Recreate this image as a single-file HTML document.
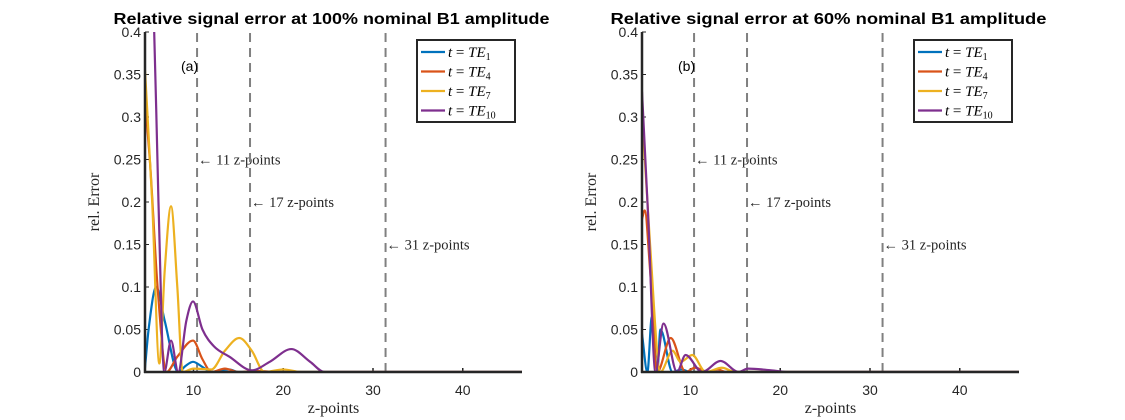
<!DOCTYPE html>
<html><head><meta charset="utf-8"><style>
html,body{margin:0;padding:0;background:#fff;}
svg{display:block;}
text{font-family:"Liberation Sans",sans-serif;}
.serif{font-family:"Liberation Serif",serif;}
</style></head><body>
<svg id="chart" width="1125" height="420" viewBox="0 0 1125 420"></svg>
<script>
const yTicks=[0,0.05,0.1,0.15,0.2,0.25,0.3,0.35,0.4];
const yTickLabels=["0","0.05","0.1","0.15","0.2","0.25","0.3","0.35","0.4"];
const xTicks=[10,20,30,40];
const seriesNames=["TE1","TE4","TE7","TE10"];
const legendSubs=["1","4","7","10"];
const vlines=[10.4,16.3,31.4];
const vlineLabels=["11 z-points","17 z-points","31 z-points"];
const vlineLabelY=[0.25,0.2,0.15];
// Panel (a) 100% B1
const aTE1x=[4.6,5.0,5.85,6.8,8.3,9.1,9.95,11,12,13,14,15,17,47];
const aTE1y=[0.005,0.05,0.1,0.06,0,0.007,0.012,0.006,0,0.002,0.003,0,0,0];
const aTE4x=[4.6,5.2,6.0,7.0,8.2,9.95,11,12,13.5,15,17,20,47];
const aTE4y=[0.32,0.24,0.1,0,0.018,0.037,0.015,0,0.004,0,0.001,0,0];
const aTE7x=[4.6,5.4,6.2,6.8,7.5,8.2,8.8,10,12,13.5,15.1,16.5,17.9,20,22,47];
const aTE7y=[0.355,0.2,0.01,0.12,0.195,0.1,0,0.004,0.003,0.025,0.04,0.025,0,0.003,0,0];
const aTE10x=[4.6,5.5,6.1,6.75,7.5,8.3,9.2,9.95,11,12.3,14,16.5,18.5,20.9,23,24.6,47];
const aTE10y=[0.55,0.45,0.2,0,0.037,0,0.06,0.083,0.05,0.03,0.018,0.002,0.012,0.027,0.012,0,0];
// Panel (b) 60% B1
const bTE1x=[4.6,5.2,5.7,6.3,6.65,8.0,9.0,10,47];
const bTE1y=[0.045,0,0.065,0,0.05,0,0.003,0,0];
const bTE4x=[4.6,4.9,5.5,6.3,7.8,9.45,10.5,12,13,14,47];
const bTE4y=[0.18,0.19,0.12,0,0.04,0,0.005,0,0.003,0,0];
const bTE7x=[4.6,5.5,6.65,8.0,8.9,10.2,11.7,13.5,15,47];
const bTE7y=[0.305,0.15,0,0.025,0.012,0.02,0,0.005,0,0];
const bTE10x=[4.6,5.3,6.1,7.0,8.5,9.45,11.3,13.35,15.35,16.4,19,21,47];
const bTE10y=[0.33,0.18,0,0.057,0,0.02,0,0.013,0,0.004,0.002,0,0];

const colors=["#0072BD","#D95319","#EDB120","#7E2F8E"];
const NS="http://www.w3.org/2000/svg";
const svg=document.getElementById('chart');
function mk(tag,attrs,parent){const e=document.createElementNS(NS,tag);for(const k in attrs)e.setAttribute(k,attrs[k]);(parent||svg).appendChild(e);return e;}

function monoPath(xs,ys,sx,sy){
  const n=xs.length;const d=[],m=new Array(n);
  for(let i=0;i<n-1;i++)d.push((ys[i+1]-ys[i])/(xs[i+1]-xs[i]));
  m[0]=d[0];m[n-1]=d[n-2];
  for(let i=1;i<n-1;i++){m[i]=(d[i-1]*d[i]<=0)?0:(d[i-1]+d[i])/2;}
  for(let i=0;i<n-1;i++){if(d[i]===0){m[i]=0;m[i+1]=0;continue;}const a=m[i]/d[i],b=m[i+1]/d[i];const s=a*a+b*b;if(s>9){const t=3/Math.sqrt(s);m[i]=t*a*d[i];m[i+1]=t*b*d[i];}}
  let p="M"+sx(xs[0])+","+sy(ys[0]);
  for(let i=0;i<n-1;i++){const h=xs[i+1]-xs[i];
    p+=" C"+sx(xs[i]+h/3)+","+sy(ys[i]+m[i]*h/3)+" "+sx(xs[i+1]-h/3)+","+sy(ys[i+1]-m[i+1]*h/3)+" "+sx(xs[i+1])+","+sy(ys[i+1]);}
  return p;
}

function panel(id,L,R,title,tag,series){
  const T=32,B=372,xmin=4.6,xmax=46.6,ymax=0.4;
  const sx=v=>L+(v-xmin)/(xmax-xmin)*(R-L);
  const sy=v=>B-v/ymax*(B-T);
  const g=mk('g',{});
  
  
  const cp=mk('clipPath',{id:'clip'+id},g);mk('rect',{x:L,y:T,width:R-L,height:B-T},cp);
  const t=mk('text',{x:(L+R)/2-2,y:24,'text-anchor':'middle','font-size':'16','font-weight':'bold',textLength:'436',lengthAdjust:'spacingAndGlyphs'},g);t.textContent=title;
  
  
  // y ticks
  yTicks.forEach((v,i)=>{
    mk('line',{x1:L,x2:L+4,y1:sy(v),y2:sy(v),stroke:'#262626','stroke-width':1},g);
    const tl=mk('text',{x:L-4,y:sy(v)+5,'text-anchor':'end','font-size':'14',fill:'#262626'},g);tl.textContent=yTickLabels[i];
    
    
  });
  xTicks.forEach(v=>{
    mk('line',{x1:sx(v),x2:sx(v),y1:B,y2:B-4,stroke:'#262626','stroke-width':1.5},g);
    const tl=mk('text',{x:sx(v),y:B+23,'text-anchor':'middle','font-size':'14',fill:'#262626'},g);tl.textContent=v;
    
    
  });
  const xl=mk('text',{x:(L+R)/2,y:413,'text-anchor':'middle','font-size':'16',class:'serif',fill:'#262626'},g);xl.textContent='z-points';
  
  
  const yl=mk('text',{x:0,y:0,'text-anchor':'middle','font-size':'16',class:'serif',fill:'#262626',transform:`translate(${L-46},${(T+B)/2}) rotate(-90)`},g);yl.textContent='rel. Error';
  
  
  // dashed lines
  vlines.forEach((v,i)=>{
    const ln=mk('line',{x1:sx(v),x2:sx(v),y1:B,y2:T,stroke:'#808080','stroke-width':2,'stroke-dasharray':'9,6'},g);
    
    
    const a=mk('text',{x:sx(v)+1,y:sy(vlineLabelY[i])+5,'font-size':'14.5',class:'serif',fill:'#262626'},g);a.textContent='\u2190 '+vlineLabels[i];
    
    
  });
  const tg=mk('text',{x:L+36,y:71,'font-size':'14',fill:'#000'},g);tg.textContent=tag;
  
  
  // series
  const sg=mk('g',{'clip-path':`url(#clip${id})`},g);
  series.forEach((s,i)=>{
    const p=mk('path',{d:monoPath(s[0],s[1],sx,sy),fill:'none',stroke:colors[i],'stroke-width':2.2,'stroke-linejoin':'round'},sg);
    
    
  });
  // axes
  mk('line',{x1:L,x2:L,y1:T,y2:B+1,stroke:'#262626','stroke-width':2.5},g);
  mk('line',{x1:L-1,x2:R,y1:B,y2:B,stroke:'#262626','stroke-width':2.5},g);
  // legend
  const lx=L+272,ly=40;
  const lg=mk('g',{},g);
  
  
  mk('rect',{x:lx,y:ly,width:98,height:82,fill:'#fff',stroke:'#262626','stroke-width':2},lg);
  seriesNames.forEach((n,i)=>{
    const yy=ly+12+i*19.5;
    mk('line',{x1:lx+4,x2:lx+28,y1:yy,y2:yy,stroke:colors[i],'stroke-width':2.2},lg);
    const tx=mk('text',{x:lx+31,y:yy+5,'font-size':'15',class:'serif','font-style':'italic'},lg);
    tx.innerHTML=`t <tspan font-style="normal">=</tspan> TE<tspan font-size="10" font-style="normal" dy="3">${legendSubs[i]}</tspan>`;
    
    
  });
}
panel('a',145,522,'Relative signal error at 100% nominal B1 amplitude','(a)',[[aTE1x,aTE1y],[aTE4x,aTE4y],[aTE7x,aTE7y],[aTE10x,aTE10y]]);
panel('b',642,1019,'Relative signal error at 60% nominal B1 amplitude','(b)',[[bTE1x,bTE1y],[bTE4x,bTE4y],[bTE7x,bTE7y],[bTE10x,bTE10y]]);
</script>
</body></html>
